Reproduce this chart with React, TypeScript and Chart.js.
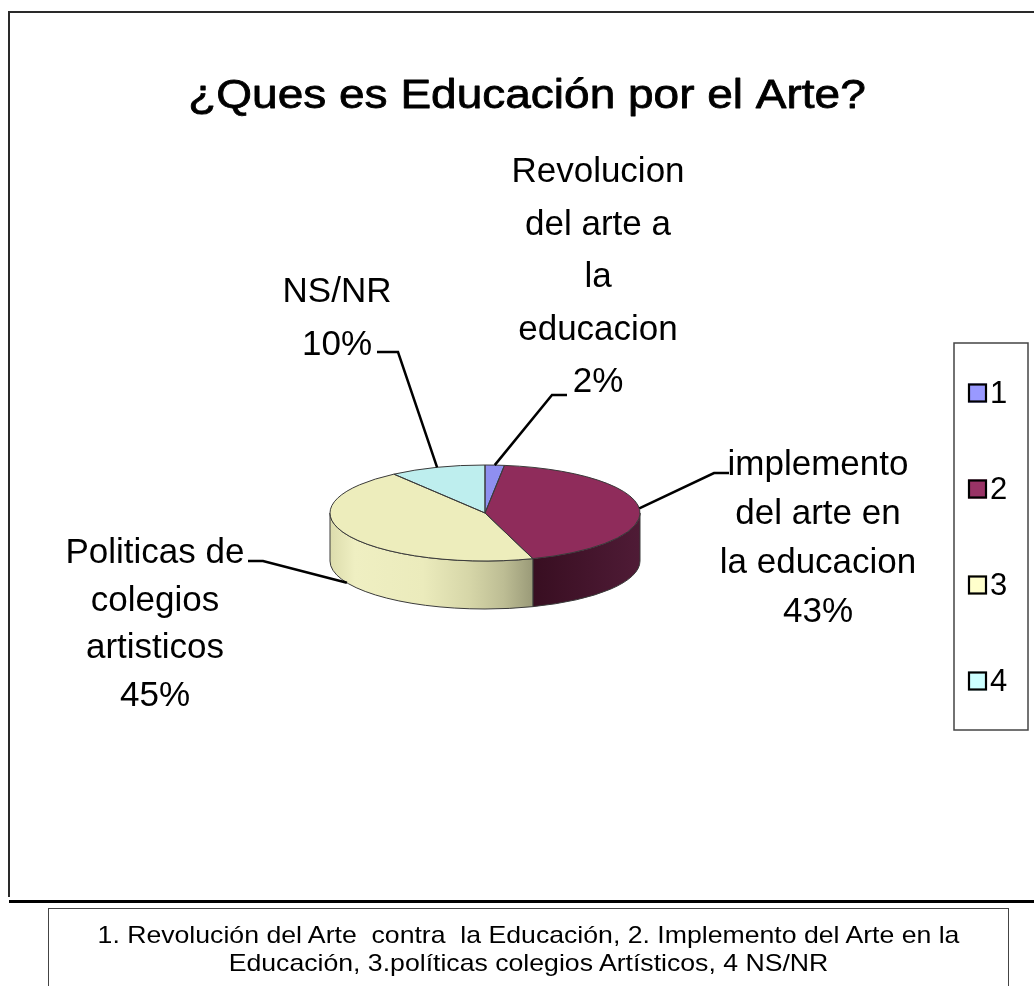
import React, { useEffect, useRef } from 'react';
import { Chart, ArcElement, PieController } from 'chart.js';

Chart.register(ArcElement, PieController);

// ---------- data ----------
const categories = ['1', '2', '3', '4'];
const values = [2, 43, 45, 10];
const sliceLabelLines = [
  ['Revolucion', 'del arte a', 'la', 'educacion'],
  ['implemento', 'del arte en', 'la educacion'],
  ['Politicas de', 'colegios', 'artisticos'],
  ['NS/NR'],
];
const titleText = '¿Ques es Educación por el Arte?';
const captionLines = [
  '1. Revolución del Arte  contra  la Educación, 2. Implemento del Arte en la',
  'Educación, 3.políticas colegios Artísticos, 4 NS/NR',
];

// ---------- styles / layout ----------
const FONT = '"Liberation Sans", Arial, Helvetica, sans-serif';
const legendColors = ['#9999FF', '#993366', '#FFFFCC', '#CCFFFF'];
const topColors = ['#8F8FF0', '#8F2C5B', '#EDEDBC', '#BEEEEE'];
// gradient stops across the full pie width (0 = left edge, 1 = right edge)
const sideStops: [number, string][][] = [
  [[0, '#6B6BC0'], [1, '#5050A0']],
  [[0, '#2E0A1A'], [0.655, '#380E21'], [1, '#4F1B36']],
  [[0, '#DCDCAC'], [0.08, '#EFEFC2'], [0.3, '#EBEBBC'], [0.45, '#D6D6A8'], [0.56, '#BDBD94'], [0.655, '#9A9A78'], [1, '#80806A']],
  [[0, '#A8D8D8'], [1, '#7FB0B0']],
];
const PIE_R = 155;
const SQUASH = 48 / 155;
const DEPTH = 48;
const labelLayout = [
  { x: 598, y: 182, lh: 52.5, elbow: [552, 395], end: [567, 395] },
  { x: 818, y: 475, lh: 49, elbow: [714, 473], end: [729, 473] },
  { x: 155, y: 563, lh: 47.5, elbow: [263, 561], end: [248, 561] },
  { x: 337, y: 302, lh: 53, elbow: [398, 352], end: [377, 352] },
];
const legendBox = { left: 954, top: 343, right: 1028, bottom: 730 };
const legendItem = { x: 968, y0: 393, step: 96, size: 19 };

function geom(chart: any) {
  const meta = chart.getDatasetMeta(0);
  const a0 = meta.data[0] as any;
  const cx = a0.x, cy = a0.y, rx = a0.outerRadius;
  return { meta, cx, cy, rx, ry: rx * SQUASH };
}

const pie3d = {
  id: 'pie3d',
  beforeDatasetsDraw(chart: any) {
    const ctx = chart.ctx as CanvasRenderingContext2D;
    const { meta, cx, cy, rx, ry } = geom(chart);
    meta.data.forEach((arc: any, i: number) => {
      const s = arc.startAngle, e = arc.endAngle;
      for (const off of [-2 * Math.PI, 0, 2 * Math.PI]) {
        const a = Math.max(s + off, 0);
        const b = Math.min(e + off, Math.PI);
        if (a >= b) continue;
        const g = ctx.createLinearGradient(cx - rx, 0, cx + rx, 0);
        sideStops[i].forEach(([p, c]) => g.addColorStop(p, c));
        ctx.beginPath();
        ctx.ellipse(cx, cy, rx, ry, 0, a, b, false);
        ctx.lineTo(cx + rx * Math.cos(b), cy + ry * Math.sin(b) + DEPTH);
        ctx.ellipse(cx, cy + DEPTH, rx, ry, 0, b, a, true);
        ctx.closePath();
        ctx.fillStyle = g;
        ctx.fill();
        ctx.strokeStyle = '#3a3a3a';
        ctx.lineWidth = 1;
        ctx.stroke();
      }
    });
    ctx.save();
    ctx.translate(cx, cy);
    ctx.scale(1, SQUASH);
    ctx.translate(-cx, -cy);
  },
  afterDatasetsDraw(chart: any) {
    const ctx = chart.ctx as CanvasRenderingContext2D;
    ctx.restore();
    const { meta, cx, cy, rx, ry } = geom(chart);
    ctx.save();
    ctx.strokeStyle = '#3a3a3a';
    ctx.lineWidth = 1;
    meta.data.forEach((arc: any) => {
      ctx.beginPath();
      ctx.moveTo(cx, cy);
      ctx.ellipse(cx, cy, rx, ry, 0, arc.startAngle, arc.endAngle, false);
      ctx.closePath();
      ctx.stroke();
    });
    ctx.restore();
  },
};

const decorations = {
  id: 'decorations',
  afterDraw(chart: any) {
    const ctx = chart.ctx as CanvasRenderingContext2D;
    const { meta, cx, cy, rx, ry } = geom(chart);
    const total = values.reduce((a, b) => a + b, 0);
    ctx.save();

    // frame
    ctx.strokeStyle = '#2a2a2a';
    ctx.lineWidth = 2;
    ctx.beginPath();
    ctx.moveTo(9, 897);
    ctx.lineTo(9, 12);
    ctx.lineTo(1034, 12);
    ctx.stroke();
    ctx.strokeStyle = '#000';
    ctx.lineWidth = 3;
    ctx.beginPath();
    ctx.moveTo(9, 901.5);
    ctx.lineTo(1034, 901.5);
    ctx.stroke();

    // title (medium weight, slightly compressed vertically)
    ctx.fillStyle = '#000';
    ctx.textAlign = 'center';
    ctx.textBaseline = 'alphabetic';
    ctx.font = `46px ${FONT}`;
    ctx.save();
    ctx.translate(527, 108);
    ctx.scale(1, 0.9);
    ctx.fillText(titleText, 0, 0);
    ctx.strokeStyle = '#000';
    ctx.lineWidth = 0.9;
    ctx.lineJoin = 'round';
    ctx.strokeText(titleText, 0, 0);
    ctx.restore();

    // leaders + labels
    meta.data.forEach((arc: any, i: number) => {
      const mid = (arc.startAngle + arc.endAngle) / 2;
      const px = cx + rx * Math.cos(mid);
      const py = cy + ry * Math.sin(mid) + (Math.sin(mid) > 0 ? DEPTH : 0);
      const L = labelLayout[i];
      ctx.strokeStyle = '#000';
      ctx.lineWidth = 2.5;
      ctx.beginPath();
      ctx.moveTo(px, py);
      ctx.lineTo(L.elbow[0], L.elbow[1]);
      ctx.lineTo(L.end[0], L.end[1]);
      ctx.stroke();
      const pct = Math.round((values[i] / total) * 100) + '%';
      const lines = [...sliceLabelLines[i], pct];
      ctx.font = `35px ${FONT}`;
      ctx.textAlign = 'center';
      lines.forEach((t, k) => ctx.fillText(t, L.x, L.y + k * L.lh));
    });

    // legend
    ctx.strokeStyle = '#444';
    ctx.lineWidth = 1.5;
    ctx.strokeRect(legendBox.left, legendBox.top, legendBox.right - legendBox.left, legendBox.bottom - legendBox.top);
    categories.forEach((c, i) => {
      const yc = legendItem.y0 + i * legendItem.step;
      const s = legendItem.size;
      ctx.fillStyle = legendColors[i];
      ctx.fillRect(legendItem.x, yc - s / 2, s, s);
      ctx.strokeStyle = '#000';
      ctx.lineWidth = 2.2;
      ctx.strokeRect(legendItem.x + 1, yc - s / 2 + 1, s - 2, s - 2);
      ctx.fillStyle = '#000';
      ctx.font = `31px ${FONT}`;
      ctx.textAlign = 'left';
      ctx.textBaseline = 'middle';
      ctx.fillText(c, legendItem.x + s + 3, yc + 1);
      ctx.textBaseline = 'alphabetic';
    });
    ctx.restore();
  },
};

export default function App() {
  const ref = useRef<HTMLCanvasElement | null>(null);
  useEffect(() => {
    if (!ref.current) return;
    const chart = new Chart(ref.current, {
      type: 'pie',
      data: {
        labels: categories,
        datasets: [
          {
            data: values,
            backgroundColor: topColors,
            borderWidth: 0,
            radius: PIE_R,
            clip: false,
          } as any,
        ],
      },
      options: {
        responsive: false,
        animation: false,
        events: [],
        layout: { padding: { left: 330, right: 394, top: 358, bottom: 318 } },
        plugins: {
          legend: { display: false },
          tooltip: { enabled: false },
          title: { display: false },
        } as any,
      },
      plugins: [pie3d, decorations],
    });
    return () => chart.destroy();
  }, []);

  const lineStyle: React.CSSProperties = {
    display: 'block',
    height: 28,
    transform: 'scaleX(1.11)',
    transformOrigin: '50% 50%',
  };

  return (
    <div style={{ position: 'absolute', left: 0, top: 0, width: 1034, height: 986, overflow: 'hidden', background: '#fff' }}>
      <canvas ref={ref} width={1034} height={986} style={{ position: 'absolute', left: 0, top: 0, width: 1034, height: 986 }} />
      <div
        style={{
          position: 'absolute',
          left: 48,
          top: 908,
          width: 961,
          height: 120,
          boxSizing: 'border-box',
          border: '1.5px solid #444',
          fontFamily: FONT,
          fontSize: 24,
          lineHeight: '28px',
          textAlign: 'center',
          whiteSpace: 'pre',
          paddingTop: 12,
          color: '#000',
        }}
      >
        <div style={lineStyle}>{captionLines[0]}</div>
        <div style={lineStyle}>{captionLines[1]}</div>
      </div>
    </div>
  );
}
